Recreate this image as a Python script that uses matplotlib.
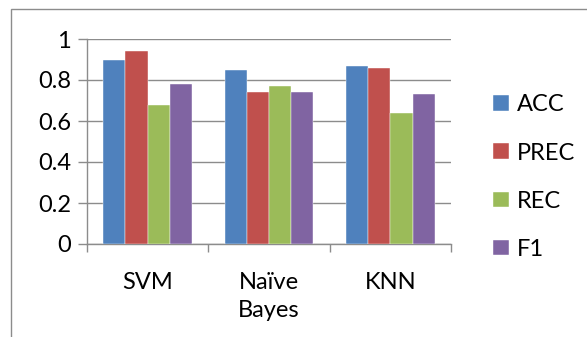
import matplotlib.pyplot as plt
import numpy as np
from matplotlib.patches import Rectangle

categories = ["SVM", "Naïve\nBayes", "KNN"]
metrics = ["ACC", "PREC", "REC", "F1"]
acc = [0.90, 0.85, 0.87]
prec = [0.94, 0.74, 0.86]
rec = [0.68, 0.77, 0.64]
f1 = [0.78, 0.74, 0.73]
colors = ["#4F81BD", "#C0504D", "#9BBB59", "#8064A2"]

plt.rcParams["font.family"] = ["Lato", "DejaVu Sans"]

W, H = 587, 337
fig = plt.figure(figsize=(W / 100, H / 100), dpi=100)
ax = fig.add_axes([87 / W, 1 - 244 / H, (451 - 87) / W, (244 - 39) / H])

# outer chart frame, cropped at right and bottom
fig.patches.append(Rectangle((11 / W, -0.1), 1.2, 1 - 9 / H + 0.1,
                             transform=fig.transFigure, fill=False,
                             edgecolor="#8c8c8c", linewidth=1.0))

x = np.arange(len(categories))
bw = 0.183
series = [acc, prec, rec, f1]
for i, (name, vals) in enumerate(zip(metrics, series)):
    ax.bar(x + (i - 1.5) * bw, vals, bw, color=colors[i], label=name,
           edgecolor="white", linewidth=0.3, zorder=3)

ax.set_xlim(-0.5, 2.5)
ax.set_ylim(0, 1)
ax.set_yticks(np.arange(0, 1.01, 0.2))
ax.set_yticklabels(["0", "0.2", "0.4", "0.6", "0.8", "1"], fontsize=17)
ax.yaxis.grid(True, color="#8c8c8c", linewidth=1.0, zorder=0)

ax.set_xticks([-0.5, 0.5, 1.5, 2.5])
ax.set_xticklabels([])
ax.set_xticks(x, minor=True)
ax.set_xticklabels(categories, minor=True, fontsize=17, linespacing=1.4, va="top")
ax.tick_params(axis="x", which="minor", length=0, pad=20)
ax.tick_params(axis="x", which="major", length=6, color="#8c8c8c", width=1)
ax.tick_params(axis="y", length=6.5, color="#8c8c8c", width=1, pad=5)

for s in ["top", "right"]:
    ax.spines[s].set_visible(False)
for s in ["left", "bottom"]:
    ax.spines[s].set_color("#8c8c8c")
    ax.spines[s].set_linewidth(1.0)

leg = fig.legend(loc="upper left", bbox_to_anchor=(484 / W, 1 - 85 / H),
                 frameon=False, fontsize=17, handlelength=0.64, handleheight=0.64,
                 handletextpad=0.34, labelspacing=1.15, borderaxespad=0)

fig.savefig("out.png", dpi=100)
